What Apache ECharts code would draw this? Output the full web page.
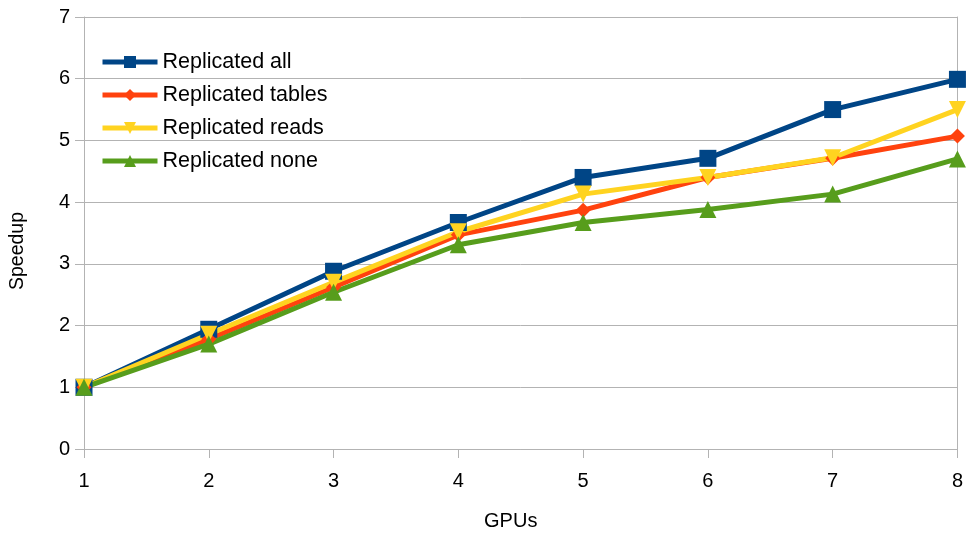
<!DOCTYPE html>
<html>
<head>
<meta charset="utf-8">
<script src="https://cdn.jsdelivr.net/npm/echarts@6/dist/echarts.min.js"></script>
<style>
  html, body { margin: 0; padding: 0; background: #fff; }
  #chart { width: 966px; height: 536px; }
</style>
</head>
<body>
<div id="chart"></div>
<script>
// GPU counts on the x axis
const gpus = [1, 2, 3, 4, 5, 6, 7, 8];

// Speedup per replication strategy
const replicatedAll    = [1.00, 1.94, 2.88, 3.67, 4.40, 4.71, 5.50, 5.99];
const replicatedTables = [1.00, 1.78, 2.62, 3.47, 3.87, 4.40, 4.71, 5.07];
const replicatedReads  = [1.00, 1.86, 2.70, 3.52, 4.13, 4.40, 4.72, 5.50];
const replicatedNone   = [1.00, 1.70, 2.54, 3.31, 3.67, 3.88, 4.13, 4.70];

const seriesNames = ['Replicated all', 'Replicated tables', 'Replicated reads', 'Replicated none'];
const seriesData = [replicatedAll, replicatedTables, replicatedReads, replicatedNone];
const colors = ['#004586', '#ff420e', '#ffd320', '#579d1c'];
const symbols = ['rect', 'diamond', 'path://M0,0 L10,0 L5,10 Z', 'triangle'];
const symbolSizes = [17, 15, 17, 17];

const font = 'Liberation Sans, Arial, sans-serif';
const gridColor = '#b3b3b3';

const chart = echarts.init(document.getElementById('chart'), null, { renderer: 'canvas' });

chart.setOption({
  animation: false,
  backgroundColor: '#ffffff',
  grid: { left: 84, right: 8, top: 17, bottom: 82, containLabel: false },
  legend: {
    orient: 'vertical',
    left: 95,
    top: 46,
    itemWidth: 55,
    itemHeight: 15,
    itemGap: 11,
    lineStyle: { width: 5 },
    textStyle: { fontFamily: font, fontSize: 21.5, color: '#000' },
    data: seriesNames
  },
  xAxis: {
    type: 'value',
    min: 1, max: 8, interval: 1,
    name: 'GPUs',
    nameLocation: 'middle',
    nameGap: 62,
    nameTextStyle: { fontFamily: font, fontSize: 20, color: '#000', padding: [0, 20, 0, 0] },
    axisLine: { show: true, lineStyle: { color: gridColor, width: 1 } },
    axisTick: { show: true, length: 9, lineStyle: { color: gridColor } },
    axisLabel: { fontFamily: font, fontSize: 20, color: '#000', margin: 22 },
    splitLine: { show: false }
  },
  yAxis: [{
    type: 'value',
    min: 0, max: 7, interval: 1,
    name: 'Speedup',
    nameLocation: 'middle',
    nameGap: 56,
    nameTextStyle: { fontFamily: font, fontSize: 19.5, color: '#000', padding: [0, 36, 0, 0] },
    axisLine: { show: true, lineStyle: { color: gridColor, width: 1 } },
    axisTick: { show: true, length: 9, lineStyle: { color: gridColor } },
    axisLabel: { fontFamily: font, fontSize: 20, color: '#000', margin: 14 },
    splitLine: { show: true, lineStyle: { color: gridColor, width: 1 } }
  }, {
    type: 'value',
    position: 'right',
    min: 0, max: 7, interval: 1,
    axisLine: { show: true, lineStyle: { color: gridColor, width: 1 } },
    axisTick: { show: false },
    axisLabel: { show: false },
    splitLine: { show: false }
  }],
  series: seriesNames.map((name, i) => ({
    name: name,
    type: 'line',
    data: gpus.map((g, j) => [g, seriesData[i][j]]),
    symbol: symbols[i],
    symbolSize: symbolSizes[i],
    showAllSymbol: true,
    itemStyle: { color: colors[i] },
    lineStyle: { color: colors[i], width: 5 }
  }))
});
</script>
</body>
</html>
